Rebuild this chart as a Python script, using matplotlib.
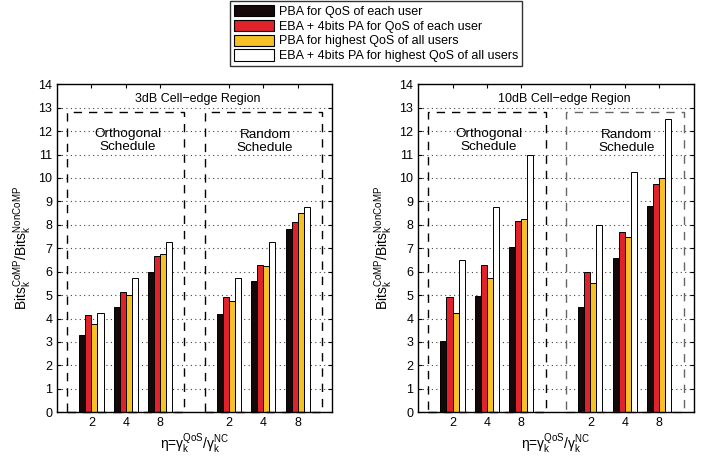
import matplotlib
matplotlib.use('Agg')
import matplotlib.pyplot as plt
import numpy as np
from matplotlib.patches import Patch, Rectangle

plt.rcParams['font.family'] = ['Liberation Sans', 'DejaVu Sans']
plt.rcParams['mathtext.default'] = 'regular'

# data
etas = ['2', '4', '8']
series = ['PBA for QoS of each user',
          'EBA + 4bits PA for QoS of each user',
          'PBA for highest QoS of all users',
          'EBA + 4bits PA for highest QoS of all users']
colors = ['#140808', '#e0222b', '#f5c124', '#ffffff']

# rows = series, columns = orthogonal eta 2,4,8 then random eta 2,4,8
vals_3db = [[3.3, 4.5, 6.0, 4.2, 5.6, 7.8],
            [4.15, 5.15, 6.65, 4.9, 6.3, 8.1],
            [3.75, 5.0, 6.75, 4.75, 6.25, 8.5],
            [4.25, 5.75, 7.25, 5.75, 7.25, 8.75]]
vals_10db = [[3.05, 4.95, 7.05, 4.5, 6.6, 8.8],
             [4.9, 6.3, 8.15, 6.0, 7.7, 9.75],
             [4.25, 5.75, 8.25, 5.5, 7.5, 10.0],
             [6.5, 8.75, 11.0, 8.0, 10.25, 12.5]]

pos = np.array([1, 2, 3, 5, 6, 7])
w = 0.175

fig = plt.figure(figsize=(7.05, 4.58), dpi=100)
ax1 = fig.add_axes([0.081, 0.100, 0.390, 0.716])
ax2 = fig.add_axes([0.593, 0.100, 0.391, 0.716])


def draw(ax, vals, title, tx, box_colors):
    ax.set_axisbelow(True)
    ax.yaxis.grid(True, ls=(0, (1, 3)), color='#444444', lw=0.8)
    for i in range(4):
        ax.bar(pos + (i - 1.5) * w, vals[i], w, color=colors[i],
               edgecolor='black', lw=0.7)
    # dashed boxes around the two schedules
    ax.add_patch(Rectangle((0.3, 0), 3.4, 12.8, fill=False, ls=(0, (6, 5)),
                           lw=1.0, ec=box_colors[0], clip_on=False))
    ax.add_patch(Rectangle((4.3, 0), 3.42, 12.8, fill=False, ls=(0, (6, 5)),
                           lw=1.0, ec=box_colors[1], clip_on=False))
    ax.text(tx, 13.35, title, ha='center', va='center', fontsize=9)
    ax.text(2.05, 11.6, 'Orthogonal\nSchedule', ha='center', va='center',
            fontsize=9.7, linespacing=1.1)
    ax.text(6.05, 11.55, 'Random\nSchedule', ha='center', va='center',
            fontsize=9.7, linespacing=1.1)
    ax.set_xlim(0, 8)
    ax.set_ylim(0, 14)
    ax.set_yticks(range(15))
    ax.set_xticks(pos)
    ax.set_xticklabels(etas * 2)
    ax.tick_params(direction='in', top=True, right=True, labelsize=9,
                   length=3, width=0.8)
    for s in ax.spines.values():
        s.set_linewidth(1.0)
    ax.set_ylabel(r'$Bits_k^{CoMP}/Bits_k^{NonCoMP}$', fontsize=10,
                  labelpad=3)
    ax.set_xlabel(r'$\eta$=$\gamma_k^{QoS}/\gamma_k^{NC}$', fontsize=10,
                  labelpad=2)


draw(ax1, vals_3db, '3dB Cell\u2212edge Region', 4.1, ['black', 'black'])
draw(ax2, vals_10db, '10dB Cell\u2212edge Region', 4.25, ['black', '#666666'])

handles = [Patch(facecolor=c, edgecolor='black', lw=0.8) for c in colors]
fig.legend(handles, series, loc='upper left', bbox_to_anchor=(0.326, 0.997),
           fontsize=9, frameon=True, fancybox=False, edgecolor='black',
           handlelength=3.2, handleheight=1.0, handletextpad=0.4,
           labelspacing=0.15, borderpad=0.3, borderaxespad=0)

fig.savefig('out.png', dpi=100)
